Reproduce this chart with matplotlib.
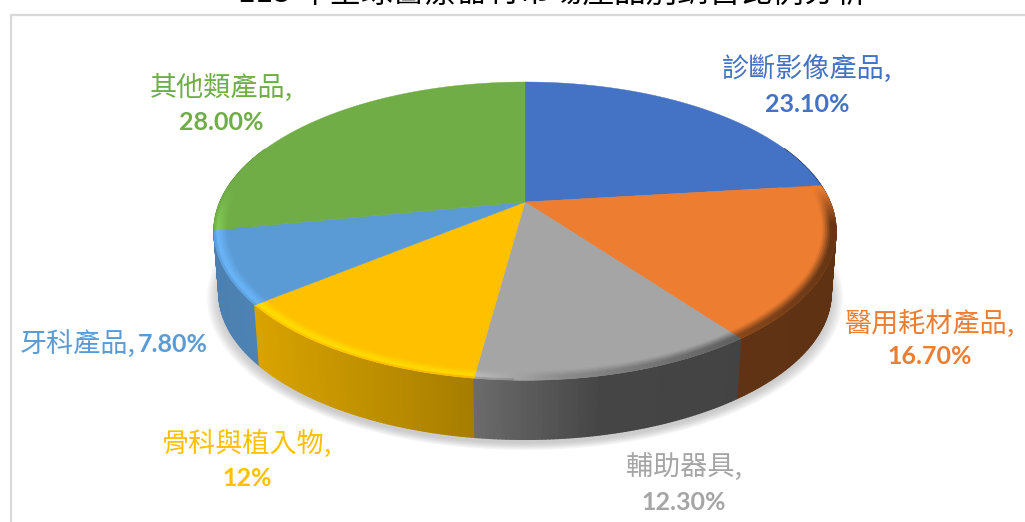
import numpy as np
import matplotlib
matplotlib.use("Agg")
import matplotlib.pyplot as plt
from matplotlib.collections import PolyCollection

# ---- data ----
categories = ["診斷影像產品", "醫用耗材產品", "輔助器具", "骨科與植入物", "牙科產品", "其他類產品"]
values = [23.1, 16.7, 12.3, 12.0, 7.8, 28.0]
value_labels = ["23.10%", "16.70%", "12.30%", "12%", "7.80%", "28.00%"]
title = "113 年全球醫療器材市場產品別銷售比例分析"

# ---- style ----
colors = ["#4472c4", "#ed7d31", "#a5a5a5", "#ffc000", "#5b9bd5", "#70ad47"]
label_xy = [(807, 69, 104), (930, 324, 357), (684, 468, 503), (247, 444, 479), None, (221, 88, 122)]
CJK = ["Noto Sans CJK TC", "DejaVu Sans"]
NUM = "Lato"

CX, CY, F, G, K = 525.0, 202.0, 305.0, 143.4, 0.195
DEPTH, BOTTOM_R = 62.5, 0.985


def project(r, th, dz=0.0):
    x, y = r * np.sin(th), r * np.cos(th)
    d = 1 + K * y
    return CX + F * x / d, CY - G * y / d + dz


def rgb(c):
    return np.array(matplotlib.colors.to_rgb(c))


def side_factor(sx):
    return np.interp(sx, [213, 258, 475, 600, 836], [0.82, 0.85, 0.65, 0.42, 0.40])


def rim_factor(sx):
    return np.interp(sx, [213, 475, 560, 836], [1.16, 1.13, 0.85, 0.42])


fig = plt.figure(figsize=(10.25, 5.22), dpi=100, facecolor="white")
ax = fig.add_axes([0, 0, 1, 1])
ax.set_xlim(0, 1025)
ax.set_ylim(522, 0)
ax.axis("off")

# frame
ax.plot([10.5, 10.5, 1025], [522, 14.5, 14.5], color="#d9d9d9", lw=1.6, solid_joinstyle="miter")

# soft shadow
full = np.linspace(0, 2 * np.pi, 361)
for s in np.linspace(1.04, 1.0, 14):
    sx, sy = project(BOTTOM_R, full, DEPTH + 4)
    ax.fill(CX + (sx - CX) * s, CY + DEPTH + 4 + (sy - CY - DEPTH - 4) * s,
            color="#8c8c8c", alpha=0.035, lw=0)

fracs = np.cumsum([0] + values) / sum(values)
edges = fracs * 2 * np.pi

# side wall, painted back to front
items = []
for i, c in enumerate(colors):
    n = max(int(values[i] * 6), 2)
    ths = np.linspace(edges[i], edges[i + 1], n + 1)
    for a, b in zip(ths[:-1], ths[1:]):
        if np.cos((a + b) / 2) > 0.4:
            continue
        xa, ya = project(1.0, a)
        xb, yb = project(1.0, b)
        xc, yc = project(BOTTOM_R, b, DEPTH)
        xd, yd = project(BOTTOM_R, a, DEPTH)
        items.append((-np.cos((a + b) / 2), [(xa, ya), (xb, yb), (xc, yc), (xd, yd)],
                      tuple(rgb(c) * side_factor((xa + xb) / 2))))
items.sort(key=lambda t: t[0])
polys = [t[1] for t in items]
cols = [t[2] for t in items]
ax.add_collection(PolyCollection(polys, facecolors=cols, edgecolors=cols, linewidths=1.0))

# top faces
for i, c in enumerate(colors):
    ths = np.linspace(edges[i], edges[i + 1], 200)
    sx, sy = project(1.0, ths)
    ax.fill(np.r_[CX, sx], np.r_[CY, sy], color=c, lw=0.3)

# bevel on the rim
polys, cols = [], []
R0 = 0.958
radii = np.linspace(R0, 1.0, 9)
for i, c in enumerate(colors):
    n = max(int(values[i] * 6), 2)
    ths = np.linspace(edges[i], edges[i + 1], n + 1)
    base = rgb(c)
    for a, b in zip(ths[:-1], ths[1:]):
        mid = (a + b) / 2
        fade = np.clip((0.1 - np.cos(mid)) / 0.25, 0, 1)
        if fade <= 0:
            continue
        for r0, r1 in zip(radii[:-1], radii[1:]):
            t = ((r0 + r1) / 2 - R0) / (1 - R0)
            xa, ya = project(r0, a)
            xb, yb = project(r0, b)
            xc, yc = project(r1, b)
            xd, yd = project(r1, a)
            sxm = (xa + xb) / 2
            col = base * (1 + (rim_factor(sxm) - 1) * min(1, t / 0.65))
            if rim_factor(sxm) > 1 and t > 0.8:
                col = col + (base * side_factor(sxm) - col) * (t - 0.8) / 0.4
            col = base + (col - base) * fade
            col = tuple(np.clip(col, 0, 1))
            polys.append([(xa, ya), (xb, yb), (xc, yc), (xd, yd)])
            cols.append(col)
ax.add_collection(PolyCollection(polys, facecolors=cols, edgecolors=cols, linewidths=0.5))

# labels
for i, pos in enumerate(label_xy):
    if pos is None:
        continue
    x, y1, y2 = pos
    ax.text(x, y1, categories[i] + ",", color=colors[i], family=CJK, fontsize=19.5,
            ha="center", va="center")
    ax.text(x, y2, value_labels[i], color=colors[i], family=NUM, fontweight="bold",
            fontsize=18, ha="center", va="center")

ax.text(20, 344, categories[4] + ",", color=colors[4], family=CJK, fontsize=19.5,
        ha="left", va="center")
ax.text(208, 344, value_labels[4], color=colors[4], family=NUM, fontweight="bold",
        fontsize=18, ha="right", va="center")

# title, cut by the top of the image as in the source
ax.text(552, 9, title, color="black", family=CJK, fontsize=22.8, ha="center", va="bottom")

fig.savefig("out.png", dpi=100)
